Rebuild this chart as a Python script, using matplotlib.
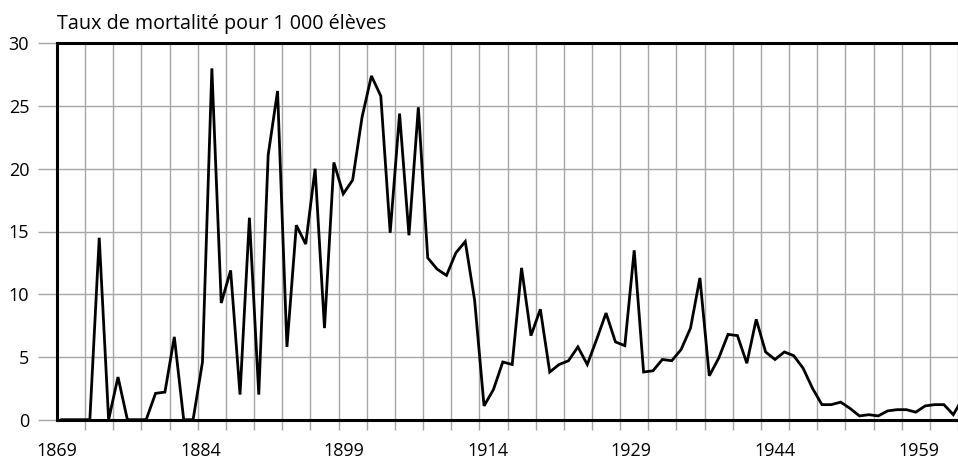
import numpy as np
import matplotlib
matplotlib.use('Agg')
import matplotlib.pyplot as plt

plt.rcParams['font.family'] = ['Open Sans', 'DejaVu Sans']

# one value per year, 1869 .. 1965 (the last one runs past the right edge)
years = list(range(1869, 1966))
rate = [0, 0, 0, 0, 14.5, 0, 3.4, 0, 0, 0,
        2.1, 2.2, 6.6, 0, 0, 4.6, 28.0, 9.3, 11.9, 2.0,
        16.1, 2.0, 21.1, 26.2, 5.8, 15.5, 14.0, 20.0, 7.3, 20.5,
        18.0, 19.1, 24.1, 27.4, 25.8, 14.9, 24.4, 14.7, 24.9, 12.9,
        12.0, 11.5, 13.3, 14.2, 9.5, 1.1, 2.4, 4.6, 4.4, 12.1,
        6.7, 8.8, 3.8, 4.4, 4.7, 5.8, 4.4, 6.4, 8.5, 6.2,
        5.9, 13.5, 3.8, 3.9, 4.8, 4.7, 5.6, 7.3, 11.3, 3.5,
        4.9, 6.8, 6.7, 4.5, 8.0, 5.4, 4.8, 5.4, 5.1, 4.1,
        2.5, 1.2, 1.2, 1.4, 0.9, 0.3, 0.4, 0.3, 0.7, 0.8,
        0.8, 0.6, 1.1, 1.2, 1.2, 0.4, 1.7]
label_years = [1869, 1884, 1899, 1914, 1929, 1944, 1959]
yticks = [0, 5, 10, 15, 20, 25, 30]
title = 'Taux de mortalité pour 1 000 élèves'

# the labels in the original drift a little from the 3-year grid
label_stretch = 1.02

fig = plt.figure(figsize=(9.58, 4.59), dpi=100)
ax = fig.add_axes([57/958, 1 - 419.7/459, 1 - 57/958, (419.7 - 43.3)/459])

x = np.array(years) - years[0] + 0.5
ax.plot(x, rate, color='black', lw=2.0, solid_joinstyle='miter', zorder=3)

ax.set_xlim(0, 96)
ax.set_ylim(0, 30)

grey = '#a6a6a6'
ax.set_xticks(np.arange(0, 97, 3), minor=True)
ax.set_xticks([(y - years[0]) * label_stretch for y in label_years])
ax.set_xticklabels([str(y) for y in label_years])
ax.tick_params(axis='x', which='major', length=0, pad=16, labelsize=13)
ax.tick_params(axis='x', which='minor', length=7, width=1, color=grey)
ax.grid(True, axis='x', which='minor', color=grey, lw=1)

ax.set_yticks(yticks)
ax.set_yticklabels([str(v) for v in yticks])
ax.tick_params(axis='y', length=14, width=1, color=grey, pad=6, labelsize=13)
ax.grid(True, axis='y', which='major', color=grey, lw=1)

for side in ['left', 'top', 'bottom']:
    ax.spines[side].set_linewidth(2.2)
    ax.spines[side].set_color('black')
    ax.spines[side].set_zorder(4)
ax.spines['right'].set_visible(False)

fig.text(57/958, 1 - 29/459, title, ha='left', va='baseline', fontsize=14.2)

fig.savefig('out.png', dpi=100)
